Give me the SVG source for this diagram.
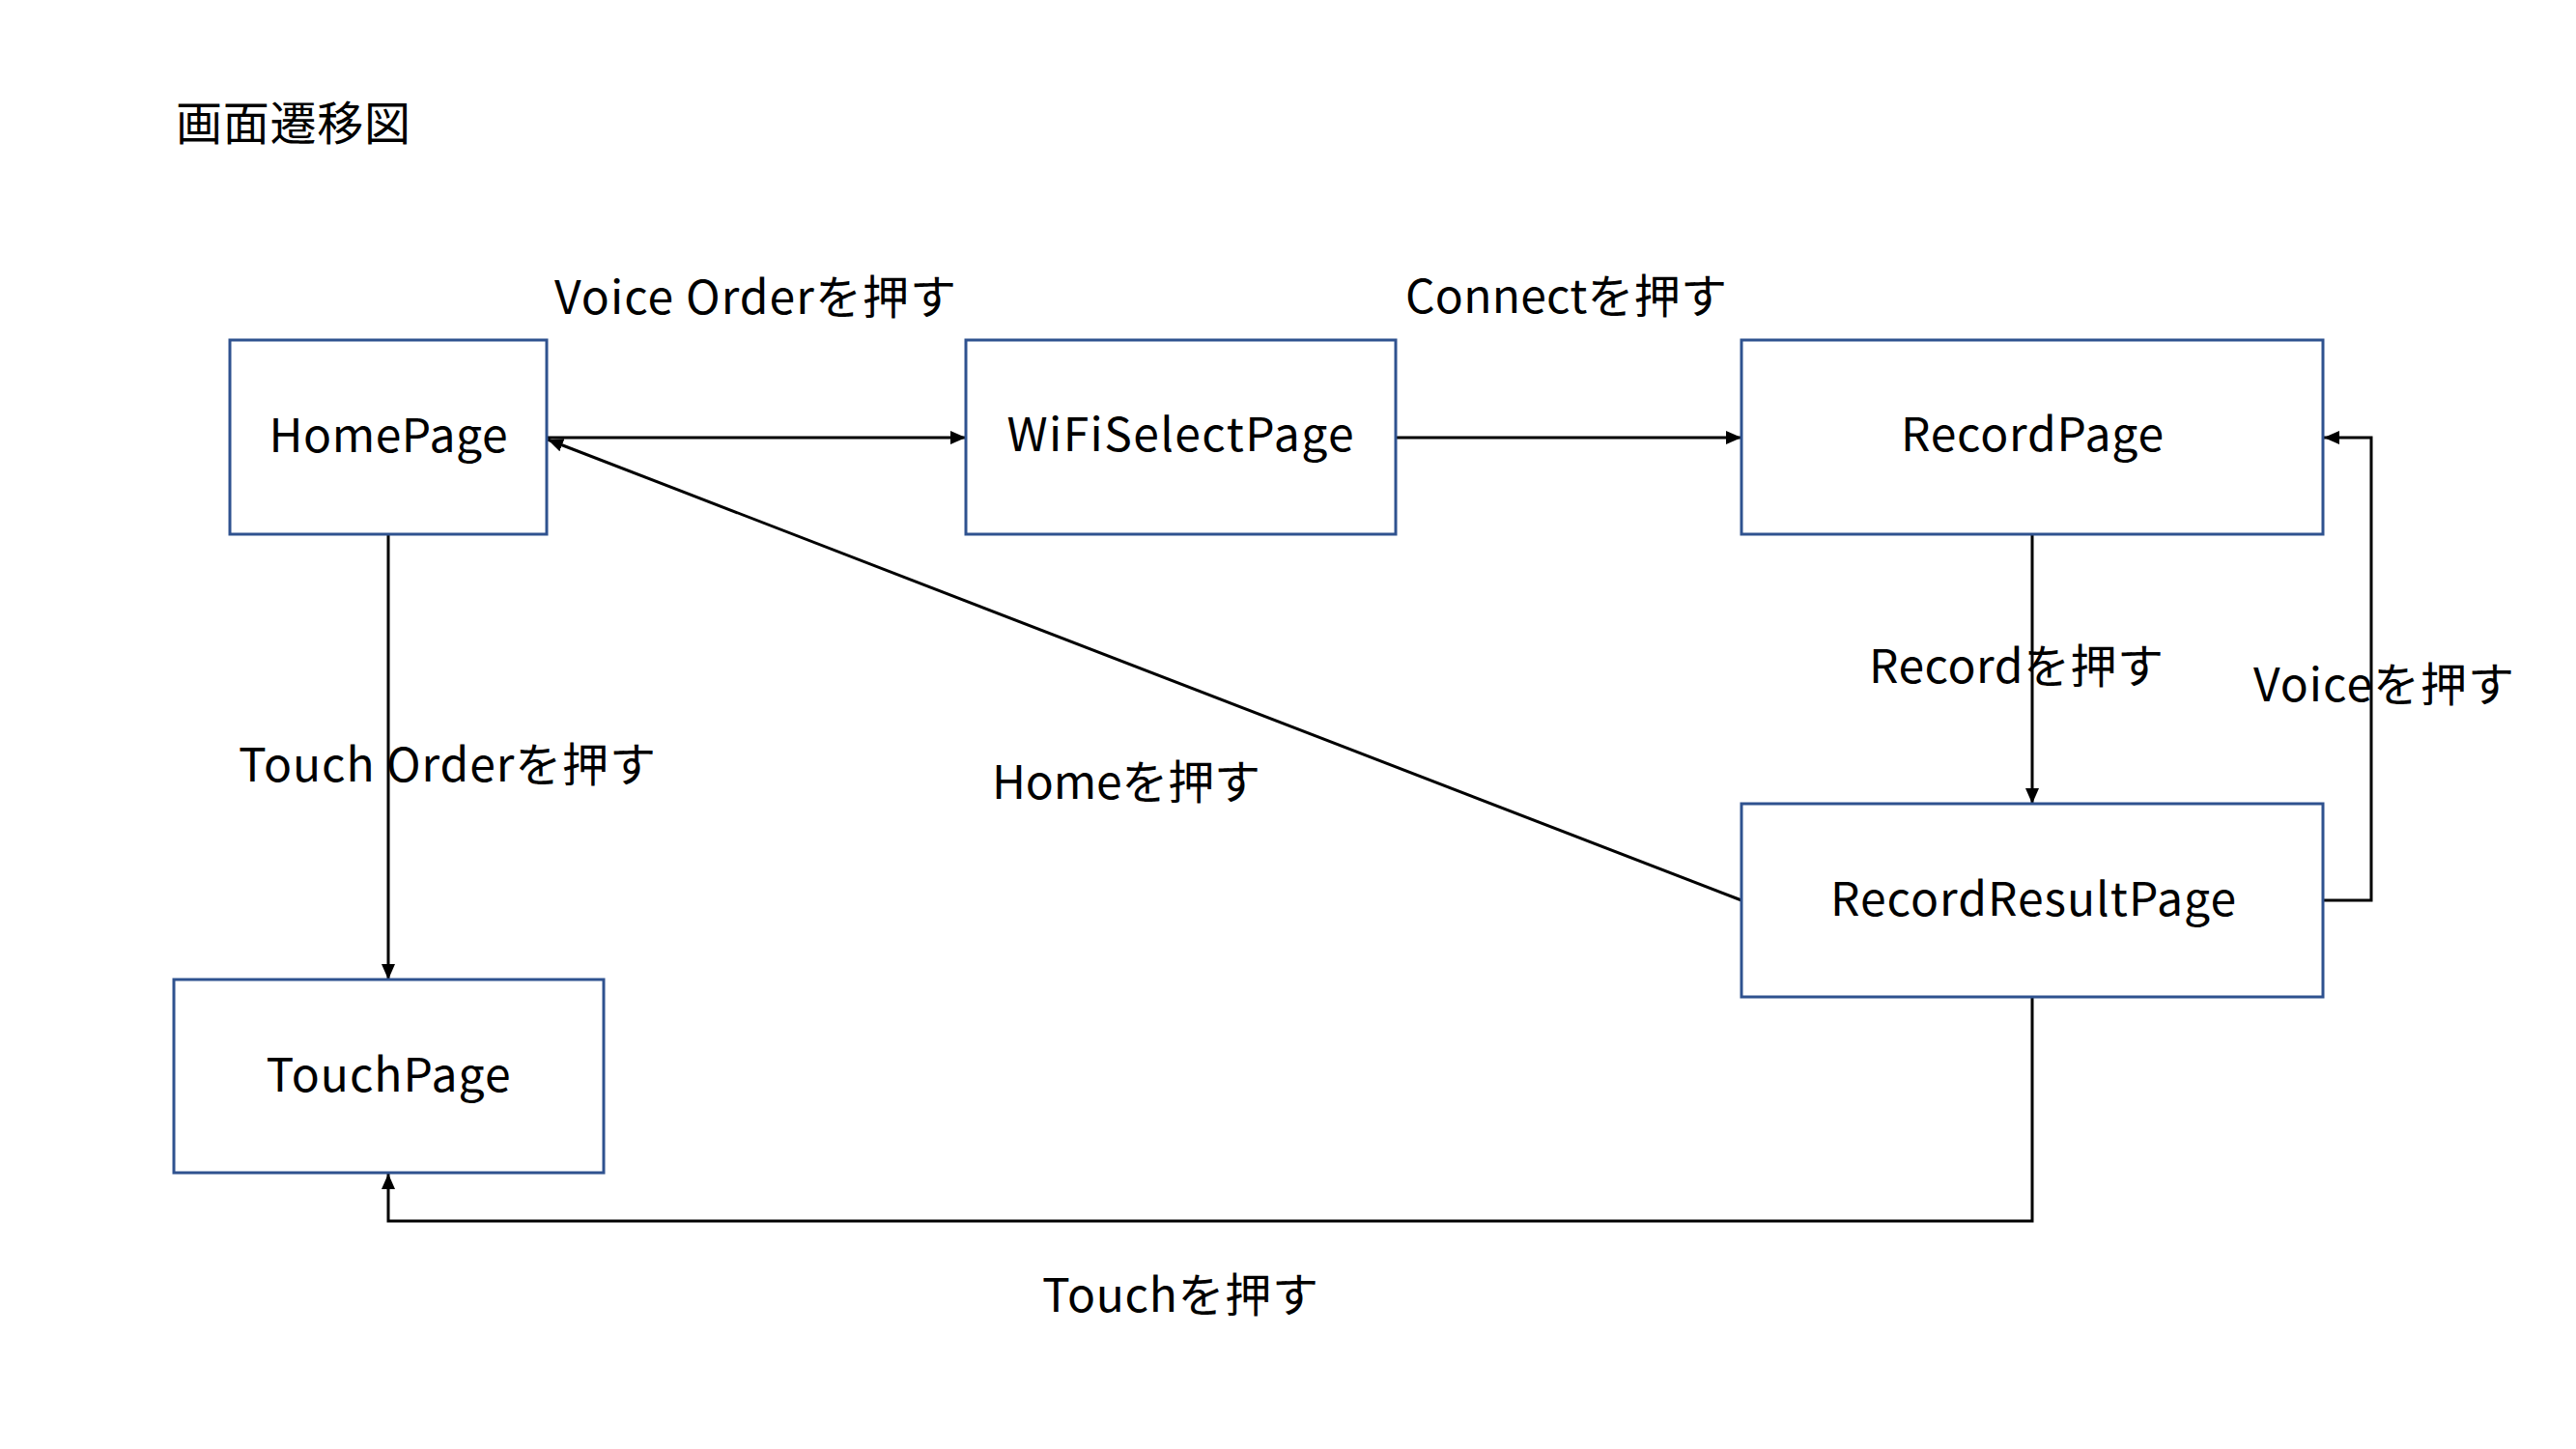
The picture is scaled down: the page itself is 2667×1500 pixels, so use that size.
<svg xmlns="http://www.w3.org/2000/svg" width="2667" height="1500" viewBox="0 0 2667 1500">
<style>
  .node rect { fill: #ffffff; stroke: #2F528F; stroke-width: 3; }
  text { font-family: "Noto Sans CJK JP", "Noto Sans", sans-serif; font-size: 48px; fill: #000000; }
  .name { text-anchor: middle; }
  .edge { fill: none; stroke: #000000; stroke-width: 3; }
</style>
<defs>
  <marker id="arrow" markerUnits="userSpaceOnUse" markerWidth="18" markerHeight="16" refX="16" refY="8" orient="auto">
    <path d="M0,1 L16,8 L0,15 Z" fill="#000000"/>
  </marker>
</defs>
<rect width="2667" height="1500" fill="#ffffff"/>
<text x="182" y="145" textLength="243">画面遷移図</text>

<g id="connectors">
  <path class="edge" d="M566 453 H1000" marker-end="url(#arrow)"/>
  <path class="edge" d="M1445 453 H1803" marker-end="url(#arrow)"/>
  <path class="edge" d="M2104 553 V832" marker-end="url(#arrow)"/>
  <path class="edge" d="M2405 932 H2455 V453 H2406" marker-end="url(#arrow)"/>
  <path class="edge" d="M1803 932 L567 455" marker-end="url(#arrow)"/>
  <path class="edge" d="M2104 1032 V1264 H402 V1215" marker-end="url(#arrow)"/>
  <path class="edge" d="M402 553 V1014" marker-end="url(#arrow)"/>
  <text x="574" y="325" textLength="416">Voice Orderを押す</text>
  <text x="1455" y="324" textLength="333">Connectを押す</text>
  <text x="1935" y="707" textLength="305">Recordを押す</text>
  <text x="2333" y="726" textLength="270">Voiceを押す</text>
  <text x="247" y="809" textLength="432">Touch Orderを押す</text>
  <text x="1027" y="827" textLength="278">Homeを押す</text>
  <text x="1079" y="1358" textLength="286">Touchを押す</text>
</g>

<g id="HomePage" class="node">
  <rect x="238" y="352" width="328" height="201"/>
  <text class="name" x="402" y="468" textLength="247">HomePage</text>
</g>
<g id="WiFiSelectPage" class="node">
  <rect x="1000" y="352" width="445" height="201"/>
  <text class="name" x="1222" y="467" textLength="359">WiFiSelectPage</text>
</g>
<g id="RecordPage" class="node">
  <rect x="1803" y="352" width="602" height="201"/>
  <text class="name" x="2104" y="467" textLength="272">RecordPage</text>
</g>
<g id="RecordResultPage" class="node">
  <rect x="1803" y="832" width="602" height="200"/>
  <text class="name" x="2105" y="948" textLength="420">RecordResultPage</text>
</g>
<g id="TouchPage" class="node">
  <rect x="180" y="1014" width="445" height="200"/>
  <text class="name" x="402" y="1130" textLength="253">TouchPage</text>
</g>
</svg>
